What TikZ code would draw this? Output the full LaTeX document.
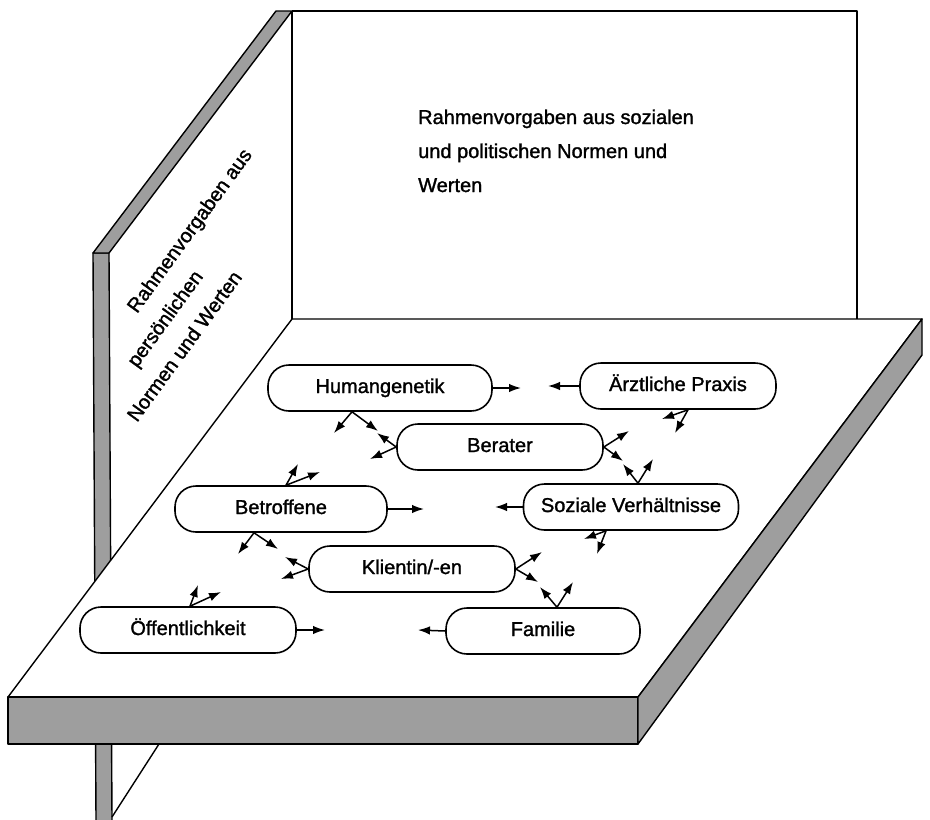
\documentclass[tikz,border=0pt]{standalone}
\usepackage{fontspec}
\setmainfont{Liberation Sans}
\newfontfamily\heavy{Liberation Sans}[FakeBold=1.4,AutoFakeBold=1.4]
\usetikzlibrary{arrows.meta}
\begin{document}
\begin{tikzpicture}[x=1pt,y=-1pt,
  box/.style={draw,line width=1.6pt,rounded corners=21pt,minimum height=46pt,inner sep=0pt,
    text height=14pt,text depth=4pt,font=\heavy\fontsize{20}{24}\selectfont,fill=white},
  arr/.style={line width=1.5pt,-{Latex[length=12pt,width=8.5pt]}},
  edge/.style={line width=1.4pt,line join=round},
  shade/.style={fill=black!38},
  walltext/.style={font=\heavy\fontsize{20}{34}\selectfont,inner sep=0pt}]
\useasboundingbox[fill=white] (0,0) rectangle (930,820);
% left wall (edge-on strip)
\fill[shade] (93,253) -- (109,253) -- (112,820) -- (96,820) -- cycle;
\draw[edge] (96,820) -- (93,253) -- (109,253) -- (112,820);
\filldraw[shade,edge] (93,253) -- (276,11) -- (292,11) -- (109,253) -- cycle;
% back wall
\draw[edge] (292,11) -- (857,11) -- (857,319);
\draw[edge] (292,11) -- (292,320);
% brace below the slab
\draw[edge] (159,744) -- (112,817);
% floor slab
\filldraw[fill=white,edge] (292,319) -- (922,319) -- (638,697) -- (8,697) -- cycle;
\filldraw[shade,edge] (8,697) -- (638,697) -- (638,744) -- (8,744) -- cycle;
\filldraw[shade,edge] (638,697) -- (922,319) -- (922,355) -- (638,744) -- cycle;
% wall texts
\node[walltext,anchor=base west,align=left] (backtext) at (418,192)
  {Rahmenvorgaben aus sozialen\\und politischen Normen und\\Werten};
\node[walltext,rotate=54,anchor=base west,align=left,
      font=\heavy\fontsize{20}{32}\selectfont] (lefttext) at (137,423)
  {\hspace*{88pt}Rahmenvorgaben aus\\\hspace*{44pt}persönlichen\\Normen und Werten};
% boxes
\node[box,minimum width=224pt] (hum)  at (380,388) {Humangenetik};
\node[box,minimum width=196pt] (arzt) at (678,386) {Ärztliche Praxis};
\node[box,minimum width=206pt] (ber)  at (500,447) {Berater};
\node[box,minimum width=212pt] (bet)  at (281,509) {Betroffene};
\node[box,minimum width=215pt] (soz)  at (631,507) {Soziale Verhältnisse};
\node[box,minimum width=206pt] (kli)  at (412,569) {Klientin/-en};
\node[box,minimum width=216pt] (oef)  at (188,630) {Öffentlichkeit};
\node[box,minimum width=194pt] (fam)  at (543,631) {Familie};
% tips of the arrows
\coordinate (hR) at (521,388);
\coordinate (aL) at (548,386);
\coordinate (bR) at (424,509);
\coordinate (sL) at (495,507);
\coordinate (oR) at (325,630);
\coordinate (fL) at (418,630);
\coordinate (hb1) at (334,433); \coordinate (hb2) at (378,431);
\coordinate (bw1) at (377,433); \coordinate (bw2) at (370,459);
\coordinate (ab1) at (662,419); \coordinate (ab2) at (675,433);
\coordinate (be1) at (629,431); \coordinate (be2) at (623,461);
\coordinate (st1) at (623,464); \coordinate (st2) at (653,459);
\coordinate (sb1) at (584,539); \coordinate (sb2) at (597,554);
\coordinate (tt1) at (298,464); \coordinate (tt2) at (320,472);
\coordinate (tb1) at (238,554); \coordinate (tb2) at (278,549);
\coordinate (kw1) at (285,557); \coordinate (kw2) at (281,579);
\coordinate (ke1) at (542,552); \coordinate (ke2) at (538,582);
\coordinate (ft1) at (540,587); \coordinate (ft2) at (573,582);
\coordinate (ot1) at (198,585); \coordinate (ot2) at (221,592);
% arrows
\draw[arr] (hum.east) -- (hR);
\draw[arr] (arzt.west) -- (aL);
\draw[arr] (bet.east) -- (bR);
\draw[arr] (soz.west) -- (sL);
\draw[arr] (oef.east) -- (oR);
\draw[arr] (fam.west) -- (fL);
\draw[arr] ([xshift=-28pt]hum.south) -- (hb1);
\draw[arr] ([xshift=-28pt]hum.south) -- (hb2);
\draw[arr] (ber.west) -- (bw1);
\draw[arr] (ber.west) -- (bw2);
\draw[arr] ([xshift=10pt]arzt.south) -- (ab1);
\draw[arr] ([xshift=10pt]arzt.south) -- (ab2);
\draw[arr] (ber.east) -- (be1);
\draw[arr] (ber.east) -- (be2);
\draw[arr] ([xshift=7pt]soz.north) -- (st1);
\draw[arr] ([xshift=7pt]soz.north) -- (st2);
\draw[arr] ([xshift=-25pt]soz.south) -- (sb1);
\draw[arr] ([xshift=-25pt]soz.south) -- (sb2);
\draw[arr] ([xshift=5pt]bet.north) -- (tt1);
\draw[arr] ([xshift=5pt]bet.north) -- (tt2);
\draw[arr] ([xshift=-27pt]bet.south) -- (tb1);
\draw[arr] ([xshift=-27pt]bet.south) -- (tb2);
\draw[arr] (kli.west) -- (kw1);
\draw[arr] (kli.west) -- (kw2);
\draw[arr] (kli.east) -- (ke1);
\draw[arr] (kli.east) -- (ke2);
\draw[arr] ([xshift=14pt]fam.north) -- (ft1);
\draw[arr] ([xshift=14pt]fam.north) -- (ft2);
\draw[arr] ([xshift=2pt]oef.north) -- (ot1);
\draw[arr] ([xshift=2pt]oef.north) -- (ot2);
\end{tikzpicture}
\end{document}
